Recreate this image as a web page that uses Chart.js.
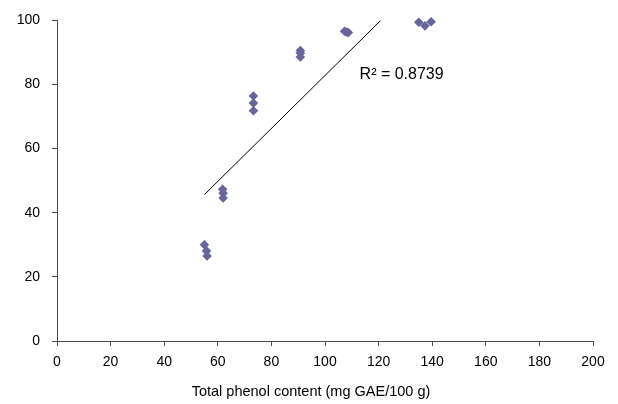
<!DOCTYPE html>
<html>
<head>
<meta charset="utf-8">
<script src="https://cdn.jsdelivr.net/npm/chart.js@4/dist/chart.umd.min.js"></script>
<style>
  body { margin: 0; background: #fff; }
  #wrap { width: 618px; height: 404px; position: relative; }
</style>
</head>
<body>
<div id="wrap"><canvas id="myChart"></canvas></div>
<script>
// data
var phenol   = [55.0, 55.8, 56.0, 61.8, 62.0, 62.0, 73.3, 73.3, 73.3, 90.8, 90.8, 90.8, 107.3, 108.0, 108.7, 135.0, 137.3, 139.6];
var activity = [30.0, 28.1, 26.5, 47.3, 46.1, 44.6, 76.4, 74.2, 71.8, 90.6, 89.8, 88.6, 96.6, 96.4, 96.2, 99.4, 98.3, 99.6];
var xTicks = [0, 20, 40, 60, 80, 100, 120, 140, 160, 180, 200];
var yTicks = [0, 20, 40, 60, 80, 100];

// linear trendline as drawn on the figure
var trendSlope = 0.826;
var trendIntercept = 0.22;
var rSquaredLabel = 'R² = 0.8739';
var xTitle = 'Total phenol content (mg GAE/100 g)';

var points = phenol.map(function (x, i) { return { x: x, y: activity[i] }; });
var xMin = Math.min.apply(null, phenol);
var xMax = Math.max.apply(null, phenol);
var trend = [xMin, xMax].map(function (x) { return { x: x, y: trendIntercept + trendSlope * x }; });

var axisColor = '#4d4d4d';
var fontFamily = '"Liberation Sans", Arial, sans-serif';
var font = { family: fontFamily, size: 14 };

// R² label and the x title (title sits a bit left of the plot centre in the original)
var textPlugin = {
  id: 'extraText',
  afterDraw: function (chart, args, opts) {
    var ctx = chart.ctx;
    ctx.save();
    ctx.fillStyle = '#000';
    ctx.textBaseline = 'middle';
    ctx.font = '16px ' + fontFamily;
    ctx.fillText(rSquaredLabel, chart.scales.x.getPixelForValue(opts.r2x), chart.scales.y.getPixelForValue(opts.r2y));
    ctx.font = '14.5px ' + fontFamily;
    ctx.textAlign = 'center';
    ctx.fillText(xTitle, opts.titleX, opts.titleY);
    ctx.restore();
  }
};

new Chart(document.getElementById('myChart'), {
  type: 'scatter',
  data: {
    datasets: [
      {
        type: 'line',
        data: trend,
        borderColor: '#000',
        borderWidth: 1,
        pointRadius: 0,
        fill: false
      },
      {
        data: points,
        pointStyle: 'rectRot',
        pointRadius: 4.8,
        backgroundColor: '#666699',
        borderColor: '#666699',
        borderWidth: 0,
        clip: false
      }
    ]
  },
  options: {
    responsive: true,
    maintainAspectRatio: false,
    animation: false,
    layout: { padding: { top: 17, right: 25, left: 0, bottom: 0 } },
    plugins: {
      legend: { display: false },
      tooltip: { enabled: false },
      extraText: { r2x: 112.9, r2y: 83, titleX: 311, titleY: 392 }
    },
    scales: {
      x: {
        type: 'linear',
        min: 0,
        max: 200,
        afterBuildTicks: function (s) { s.ticks = xTicks.map(function (v) { return { value: v }; }); },
        afterFit: function (s) { s.height = 63; },
        border: { display: true, color: axisColor, width: 1 },
        grid: { display: true, drawOnChartArea: false, drawTicks: true, tickLength: 5, color: axisColor },
        ticks: { color: '#000', font: font, padding: 8, maxRotation: 0 }
      },
      y: {
        type: 'linear',
        min: 0,
        max: 100,
        afterBuildTicks: function (s) { s.ticks = yTicks.map(function (v) { return { value: v }; }); },
        afterFit: function (s) { s.width = 57; },
        border: { display: true, color: axisColor, width: 1 },
        grid: { display: true, drawOnChartArea: false, drawTicks: true, tickLength: 5, color: axisColor },
        ticks: { color: '#000', font: font, padding: 12 }
      }
    }
  },
  plugins: [textPlugin]
});
</script>
</body>
</html>
